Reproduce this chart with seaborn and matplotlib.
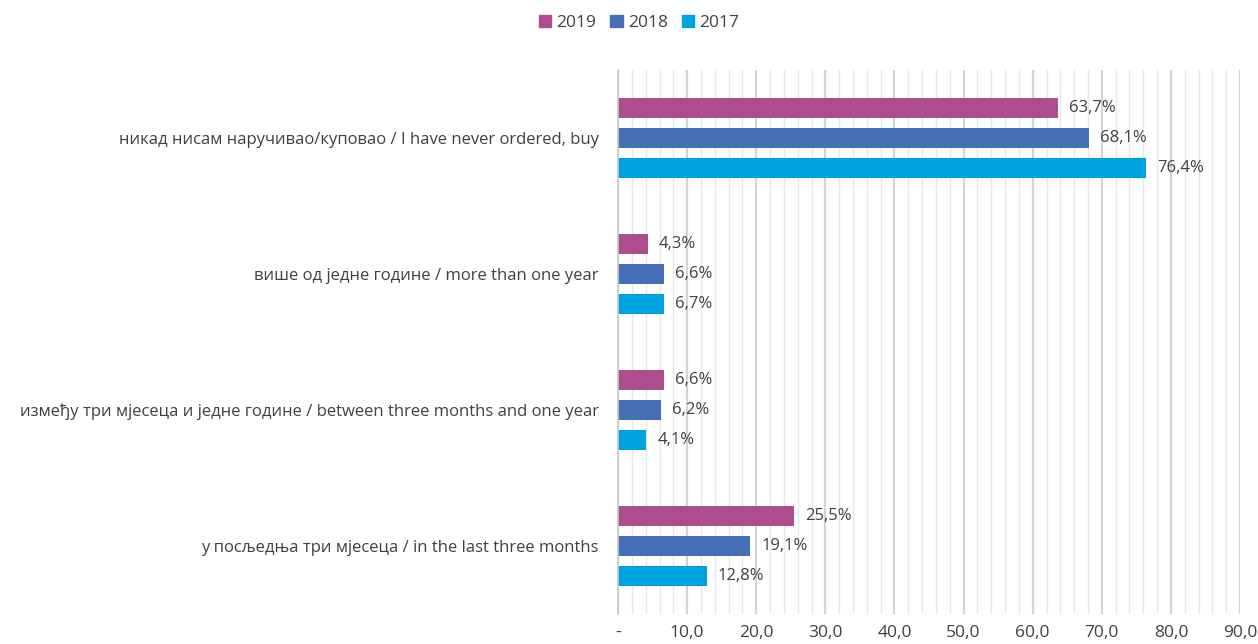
import matplotlib.pyplot as plt
import matplotlib.patches as mpatches
import pandas as pd
import seaborn as sns
import numpy as np

# Data
categories = ['никад нисам наручивао/куповао / I have never ordered, buy',
              'више од једне године / more than one year',
              'између три мјесеца и једне године / between three months and one year',
              'у посљедња три мјесеца / in the last three months']
years = ['2019', '2018', '2017']
v2019 = [63.7, 4.3, 6.6, 25.5]
v2018 = [68.1, 6.6, 6.2, 19.1]
v2017 = [76.4, 6.7, 4.1, 12.8]
colors = ['#AD4D8E', '#4570B7', '#00A3E0']
xticks = [0, 10, 20, 30, 40, 50, 60, 70, 80, 90]
xticklabels = ['-', '10,0', '20,0', '30,0', '40,0', '50,0', '60,0', '70,0', '80,0', '90,0']

df = pd.DataFrame({
    'category': categories * 3,
    'year': [y for y in years for _ in categories],
    'value': v2019 + v2018 + v2017,
})

sns.set_style('white')
plt.rcParams['font.family'] = ['Open Sans', 'DejaVu Sans']
text_col = '#404040'

fig = plt.figure(figsize=(12.58, 6.44), dpi=100)
ax = fig.add_axes([0.4913, 0.0466, 0.4944, 0.8447])

# grid first so bars sit on top
ax.set_xlim(0, 90)
ax.set_xticks(xticks)
ax.set_xticks(np.arange(0, 91, 2), minor=True)
ax.grid(axis='x', which='major', color='#D4D4D4', linewidth=1.6)
ax.grid(axis='x', which='minor', color='#E8E8E8', linewidth=1.0)
ax.set_axisbelow(True)

sns.barplot(data=df, y='category', x='value', hue='year', hue_order=years,
            order=categories, palette=colors, orient='h', width=0.66, gap=0.33,
            saturation=1, legend=False, linewidth=0, ax=ax)

for cont in ax.containers:
    labels = [f'{b.get_width():.1f}%'.replace('.', ',') for b in cont]
    ax.bar_label(cont, labels=labels, padding=8, fontsize=12, color=text_col)

ax.set_xlim(0, 90)
ax.set_ylim(3.5, -0.5)
ax.set_xticklabels(xticklabels)
ax.set_xlabel('')
ax.set_ylabel('')
ax.tick_params(axis='x', which='both', length=0, labelsize=12.5, labelcolor=text_col, pad=8)
ax.tick_params(axis='y', which='major', length=0, labelsize=12, labelcolor=text_col, pad=14)
ax.set_yticks([-0.5, 0.5, 1.5, 2.5, 3.5], minor=True)
ax.tick_params(axis='y', which='minor', length=5, color='#C8C8C8', direction='out')

for s in ['top', 'right', 'bottom']:
    ax.spines[s].set_visible(False)
ax.spines['left'].set_color('#C8C8C8')
ax.spines['left'].set_linewidth(1.2)

handles = [mpatches.Patch(color=c, label=y) for c, y in zip(colors, years)]
fig.legend(handles=handles, loc='center', bbox_to_anchor=(0.508, 0.964), ncol=3,
           frameon=False, fontsize=12.5, handlelength=0.7, handleheight=0.7,
           handletextpad=0.3, columnspacing=0.8, labelcolor=text_col)

fig.savefig('out.png', dpi=100)
